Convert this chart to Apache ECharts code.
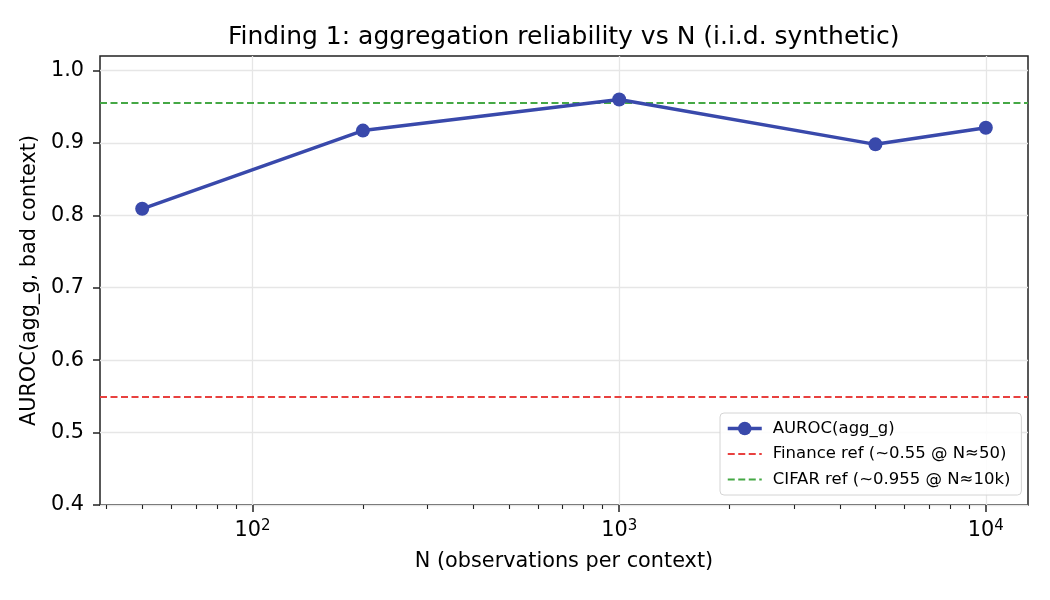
<!DOCTYPE html>
<html>
<head>
<meta charset="utf-8">
<script src="https://cdn.jsdelivr.net/npm/echarts@6/dist/echarts.min.js"></script>
<style>
  html, body {margin: 0; padding: 0; background: #fff;}
  #chart {width: 1050px; height: 600px;}
</style>
</head>
<body>
<div id="chart"></div>
<script>
// data
const nValues = [50, 200, 1000, 5000, 10000];
const auroc = [0.809, 0.917, 0.960, 0.898, 0.921];
const financeRef = 0.55;
const cifarRef = 0.955;
const yTicks = [0.4, 0.5, 0.6, 0.7, 0.8, 0.9, 1.0];
const xMajorTicks = [100, 1000, 10000];
const xMinorTicks = [40, 50, 60, 70, 80, 90, 200, 300, 400, 500, 600, 700, 800, 900,
  2000, 3000, 4000, 5000, 6000, 7000, 8000, 9000];

const font = 'DejaVu Sans';
const lg = Math.log10;
// matplotlib-style 5% margin on the log range
const xMin = lg(50) - 0.05 * (lg(10000) - lg(50));
const xMax = lg(10000) + 0.05 * (lg(10000) - lg(50));

const blue = '#3949ab', red = '#e8413f', green = '#45a845';
const dash = [7, 3.5];

const chart = echarts.init(document.getElementById('chart'));

const baseX = {
  type: 'value',
  min: xMin,
  max: xMax,
  position: 'bottom',
  axisLine: {show: false},
};

const refSeries = (name, value, color) => ({
  name,
  type: 'line',
  data: [],
  symbol: 'none',
  color,
  lineStyle: {color, width: 1.8, type: dash},
  markLine: {
    silent: true,
    symbol: 'none',
    precision: 3,
    label: {show: false},
    lineStyle: {color, width: 1.8, type: dash},
    data: [{yAxis: value}],
  },
});

chart.setOption({
  animation: false,
  textStyle: {fontFamily: font},
  title: {
    text: 'Finding 1: aggregation reliability vs N (i.i.d. synthetic)',
    left: 223,
    top: 20,
    textStyle: {fontFamily: font, fontSize: 25, fontWeight: 'normal', color: '#000'},
  },
  grid: {
    left: 100, right: 22, top: 56, bottom: 95,
    show: true,
    borderColor: '#222',
    borderWidth: 1.5,
  },
  legend: {
    orient: 'vertical',
    left: 720,
    top: 413,
    padding: [7, 11, 7, 6],
    itemWidth: 34,
    itemHeight: 17,
    itemGap: 8.5,
    backgroundColor: 'rgba(255,255,255,0.85)',
    borderColor: '#d4d4d4',
    borderWidth: 1,
    borderRadius: 4,
    textStyle: {fontFamily: font, fontSize: 16.5, color: '#000', padding: [0, 0, 0, 6]},
    data: [
      {name: 'AUROC(agg_g)', lineStyle: {width: 3.5}},
      {name: 'Finance ref (~0.55 @ N≈50)', itemStyle: {opacity: 0}},
      {name: 'CIFAR ref (~0.955 @ N≈10k)', itemStyle: {opacity: 0}},
    ],
  },
  xAxis: [
    {
      ...baseX,
      name: 'N (observations per context)',
      nameLocation: 'middle',
      nameGap: 46,
      nameTextStyle: {fontFamily: font, fontSize: 20.8, color: '#000'},
      axisTick: {
        show: true, length: 7, lineStyle: {color: '#222', width: 1.5},
        customValues: xMajorTicks.map(lg),
      },
      axisLabel: {
        customValues: xMajorTicks.map(lg),
        margin: 14,
        fontFamily: font,
        fontSize: 20.8,
        color: '#000',
        formatter: v => '{a|10}{b|' + Math.round(v) + '}',
        rich: {
          a: {fontFamily: font, fontSize: 20.8, color: '#000'},
          b: {fontFamily: font, fontSize: 15, color: '#000', padding: [0, 0, 9, 0]},
        },
      },
      splitLine: {show: true, lineStyle: {color: '#e6e6e6', width: 1.3}},
    },
    {
      ...baseX,
      axisTick: {
        show: true, length: 4, lineStyle: {color: '#222', width: 1.1},
        customValues: xMinorTicks.map(lg),
      },
      axisLabel: {show: false},
      splitLine: {show: false},
    },
  ],
  yAxis: {
    type: 'value',
    min: 0.4,
    max: 1.02,
    interval: 0.1,
    name: 'AUROC(agg_g, bad context)',
    nameLocation: 'middle',
    nameGap: 58,
    nameTextStyle: {fontFamily: font, fontSize: 20.8, color: '#000'},
    axisLine: {show: false},
    axisTick: {show: true, length: 7, lineStyle: {color: '#222', width: 1.5}, customValues: yTicks},
    axisLabel: {
      customValues: yTicks,
      margin: 16,
      fontFamily: font,
      fontSize: 20.8,
      color: '#000',
      formatter: v => v.toFixed(1),
    },
    splitLine: {show: true, lineStyle: {color: '#e6e6e6', width: 1.3}},
  },
  series: [
    refSeries('Finance ref (~0.55 @ N≈50)', financeRef, red),
    refSeries('CIFAR ref (~0.955 @ N≈10k)', cifarRef, green),
    {
      name: 'AUROC(agg_g)',
      type: 'line',
      data: nValues.map((n, i) => [lg(n), auroc[i]]),
      color: blue,
      symbol: 'circle',
      symbolSize: 14,
      lineStyle: {color: blue, width: 3.5},
      itemStyle: {color: blue},
      z: 5,
    },
  ],
});
</script>
</body>
</html>
